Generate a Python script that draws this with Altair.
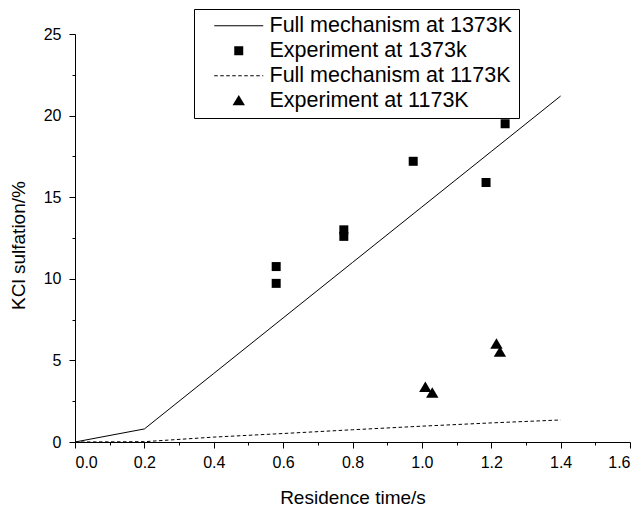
import altair as alt
import pandas as pd

# ---- data ----
model_t = [0.0, 0.2, 0.4, 0.6, 0.8, 1.0, 1.2, 1.4]
model_1373 = [0.0, 0.8, 4.2, 7.6, 11.0, 14.4, 17.8, 21.2]
model_1173 = [0.0, 0.02, 0.3, 0.52, 0.75, 0.97, 1.17, 1.35]

exp1373_t = [0.58, 0.58, 0.775, 0.775, 0.975, 1.24, 1.185]
exp1373_y = [10.75, 9.72, 13.0, 12.6, 17.2, 19.5, 15.9]

exp1173_t = [1.01, 1.03, 1.215, 1.225]
exp1173_y = [3.35, 3.0, 6.0, 5.5]

series = [
    "Full mechanism at 1373K",
    "Experiment at 1373k",
    "Full mechanism at 1173K",
    "Experiment at 1173K",
]

FONT = "Liberation Sans"


# glyph paths (unit scale = sqrt(size)/2 px = 10 px); lines drawn as thin filled bars
def bar(x0, x1, h=0.05):
    return f"M{x0},{-h}H{x1}V{h}H{x0}Z"


LINE_PATH = bar(-2.45, 2.45)
DASH_PATH = "".join(bar(round(-2.45 + 0.6 * i, 2), round(min(-2.45 + 0.6 * i + 0.35, 2.45), 2))
                    for i in range(9))
SQUARE_PATH = "M-0.45,-0.45H0.45V0.45H-0.45Z"
TRI_PATH = "M0,-0.58L0.62,0.46L-0.62,0.46Z"

model_df = pd.DataFrame({
    "t": model_t * 2,
    "y": model_1373 + model_1173,
    "series": [series[0]] * len(model_t) + [series[2]] * len(model_t),
})
exp_df = pd.DataFrame({
    "t": exp1373_t + exp1173_t,
    "y": exp1373_y + exp1173_y,
    "series": [series[1]] * len(exp1373_t) + [series[3]] * len(exp1173_t),
})

xscale = alt.Scale(domain=[0, 1.6], nice=False, zero=False)
yscale = alt.Scale(domain=[0, 25], nice=False)

xaxis = alt.Axis(
    values=[round(i * 0.1, 1) for i in range(17)],
    labelExpr="round(datum.value*10) % 2 === 0 ? format(datum.value, '.1f') : ''",
    tickSize={"condition": {"test": "round(datum.value*10) % 2 === 0", "value": 6}, "value": 3},
    labelOverlap=False,
    labelFontSize=16,
    labelPadding=6,
    title="Residence time/s",
    titleFontSize=19,
    titleFontWeight="normal",
    titlePadding=18,
    grid=False,
)
yaxis = alt.Axis(
    values=[i * 2.5 for i in range(11)],
    labelExpr="datum.value % 5 === 0 ? format(datum.value, 'd') : ''",
    tickSize={"condition": {"test": "datum.value % 5 === 0", "value": 6}, "value": 3},
    labelOverlap=False,
    labelFontSize=16,
    labelPadding=8,
    title="KCl sulfation/%",
    titleFontSize=19,
    titleFontWeight="normal",
    titlePadding=15,
    titleY=211,
    grid=False,
)

x = alt.X("t:Q", scale=xscale, axis=xaxis)
y = alt.Y("y:Q", scale=yscale, axis=yaxis)

line1373 = alt.Chart(model_df).transform_filter(
    alt.datum.series == series[0]
).mark_line(color="black", strokeWidth=1).encode(x=x, y=y)

line1173 = alt.Chart(model_df).transform_filter(
    alt.datum.series == series[2]
).mark_line(color="black", strokeWidth=1, strokeDash=[3.5, 2.5]).encode(x=x, y=y)

points = alt.Chart(exp_df).mark_point(
    filled=True, color="black", fill="black", strokeWidth=0, size=400,
    opacity=1, fillOpacity=1
).encode(
    x=x,
    y=y,
    shape=alt.Shape(
        "series:N",
        scale=alt.Scale(domain=series,
                        range=[LINE_PATH, SQUARE_PATH, DASH_PATH, TRI_PATH]),
        legend=alt.Legend(
            title=None,
            orient="none",
            legendX=119,
            legendY=-25,
            strokeColor="black",
            fillColor="white",
            padding=6,
            symbolSize=400,
            symbolOffset=28,
            symbolFillColor="black",
            symbolStrokeWidth=0,
            symbolOpacity=1,
            labelFontSize=21.5,
            labelFont=FONT,
            labelColor="black",
            labelOffset=20,
            rowPadding=2,
            labelLimit=400,
        ),
    ),
)

chart = alt.layer(line1373, line1173, points).properties(
    width=555,
    height=408,
    autosize=alt.AutoSizeParams(type="none"),
    padding={"left": 67, "top": 26, "right": 6, "bottom": 64},
).configure_view(stroke=None).configure_axis(
    domainColor="black",
    tickColor="black",
    labelColor="black",
    titleColor="black",
    labelFont=FONT,
    titleFont=FONT,
    domainWidth=1,
    tickWidth=1,
)

chart.save("out.html", embed_options={"renderer": "svg", "actions": False})
